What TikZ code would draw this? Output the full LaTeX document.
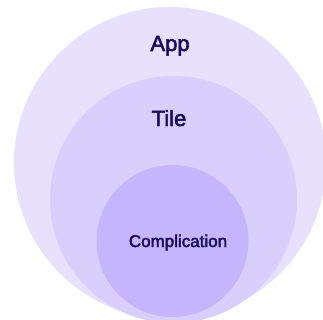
\documentclass[tikz,border=0pt]{standalone}
\usepackage{fontspec}
\setmainfont{Liberation Sans}
\newfontfamily\lblfont{Liberation Sans}[UprightFeatures={FakeBold=2.5}]
\usepackage{xcolor}
\definecolor{appfill}{RGB}{231,225,254}
\definecolor{tilefill}{RGB}{217,207,253}
\definecolor{complfill}{RGB}{196,181,253}
\definecolor{labelink}{RGB}{26,12,90}

\begin{document}
\begin{tikzpicture}[x=1pt,y=-1pt,
  layer/.style={circle,inner sep=0pt,draw=none},
  lbl/.style={text=labelink,inner sep=0pt,anchor=base,font=\lblfont}]
\useasboundingbox (0,0) rectangle (323,320);

\node[layer,fill=appfill,minimum size=312pt] (app) at (170,163) {};
\node[layer,fill=tilefill,minimum size=247pt] (tile) at (173.5,199.5) {};
\node[layer,fill=complfill,minimum size=152pt] (compl) at (172.5,241) {};

{\fontsize{22}{24}\selectfont
\node[lbl] (applbl) at (170,51) {App};
\node[lbl] (tilelbl) at (169,126) {Tile};
}
{\fontsize{17}{19}\selectfont
\node[lbl] (compllbl) at (178,247) {Complication};
}
\end{tikzpicture}
\end{document}
